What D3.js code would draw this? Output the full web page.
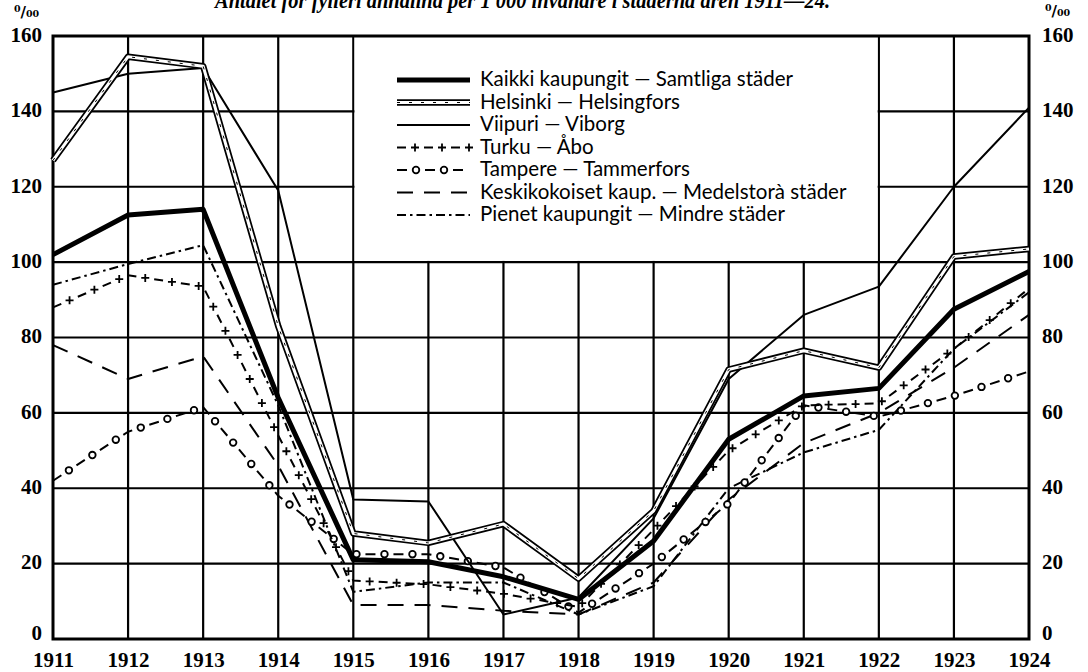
<!DOCTYPE html>
<html lang="en">
<head>
<meta charset="utf-8">
<title>Fylleri 1911-24</title>
<script src="https://cdn.jsdelivr.net/npm/d3@7"></script>
<style>
  body { margin: 0; background: #fff; }
  svg { display: block; }
</style>
</head>
<body>
<script>
// years on the x axis
var years = [1911, 1912, 1913, 1914, 1915, 1916, 1917, 1918, 1919, 1920, 1921, 1922, 1923, 1924];
var yTicks = [0, 20, 40, 60, 80, 100, 120, 140, 160];

// per mille
var kaikki   = [102, 112.5, 114, 64, 21, 20.5, 16.5, 10.5, 26, 53, 64.5, 66.5, 87.5, 97.5];
var helsinki = [127, 154.5, 152, 83, 28, 25.5, 30.5, 16, 34, 71.5, 76.5, 72, 101.5, 103.5];
var viipuri  = [145, 150, 151.5, 119, 37, 36.5, 6.5, 11, 32, 69, 86, 93.5, 120, 141];
var turku    = [88, 96.5, 93.5, 54, 15.5, 14.5, 12, 8.5, 29, 50, 62, 62.5, 77, 93];
var tampere  = [42, 55, 61.5, 38, 22.5, 22.5, 19, 7, 20, 36, 62, 59, 64.5, 71];
var keski    = [78, 69, 75, 46, 9, 9, 7.5, 6.5, 15, 37, 52, 60, 72, 86];
var pienet   = [94, 99.5, 104.5, 62, 12.5, 15, 15, 6.5, 14, 40, 49.5, 55.5, 77, 92];

var labels = [
  "Kaikki kaupungit — Samtliga städer",
  "Helsinki — Helsingfors",
  "Viipuri — Viborg",
  "Turku — Åbo",
  "Tampere — Tammerfors",
  "Keskikokoiset kaup. — Medelstorà städer",
  "Pienet kaupungit — Mindre städer"
];
var title = "Antalet för fylleri anhållna per 1 000 invånare i städerna åren 1911—24.";

var width = 1088, height = 672;
var x = d3.scaleLinear().domain([1911, 1924]).range([53, 1029]);
var y = d3.scaleLinear().domain([0, 160]).range([639, 36]);

var svg = d3.select("body").append("svg")
  .attr("width", width).attr("height", height)
  .attr("viewBox", [0, 0, width, height]);

var serif = "'Liberation Serif', 'DejaVu Serif', serif";

// title, cut by the top edge like the scan
svg.append("text")
  .attr("x", 215).attr("y", 8)
  .attr("textLength", 615).attr("lengthAdjust", "spacingAndGlyphs")
  .attr("font-family", serif).attr("font-style", "italic").attr("font-weight", "bold")
  .attr("font-size", 23)
  .text(title);

function styleTicks(g) {
  g.select(".domain").remove();
  g.selectAll("text").attr("font-family", serif).attr("font-size", 21)
    .attr("font-weight", "bold").attr("fill", "#000");
}
function yLabelShift(g) {
  g.selectAll("text").attr("dy", function (d) { return d === 0 ? "0" : "0.25em"; });
}

svg.append("g")
  .attr("transform", "translate(" + x(1911) + ",0)")
  .call(d3.axisLeft(y).tickValues(yTicks).tickSize(0).tickPadding(11).tickFormat(d3.format("d")))
  .call(styleTicks)
  .call(yLabelShift);

svg.append("g")
  .attr("transform", "translate(" + x(1924) + ",0)")
  .call(d3.axisRight(y).tickValues(yTicks).tickSize(0).tickPadding(13).tickFormat(d3.format("d")))
  .call(styleTicks)
  .call(yLabelShift);

svg.append("g")
  .attr("transform", "translate(0," + y(0) + ")")
  .call(d3.axisBottom(x).tickValues(years).tickSize(0).tickPadding(13).tickFormat(d3.format("d")))
  .call(styleTicks);

var grid = svg.append("g").attr("stroke", "#000").attr("stroke-width", 2.2);
grid.selectAll("line.h").data(yTicks.slice(1, -1)).join("line")
  .attr("x1", x(1911)).attr("x2", x(1924))
  .attr("y1", function (d) { return y(d); }).attr("y2", function (d) { return y(d); });
grid.selectAll("line.v").data(years.slice(1, -1)).join("line")
  .attr("y1", y(0)).attr("y2", y(160))
  .attr("x1", function (d) { return x(d); }).attr("x2", function (d) { return x(d); });

// legend panel wipes the grid between 1915-1922 above 100
svg.append("rect")
  .attr("x", x(1915) + 1.2).attr("y", y(160))
  .attr("width", x(1922) - x(1915) - 2.4).attr("height", y(100) - y(160) - 1.2)
  .attr("fill", "#fff");

svg.append("rect")
  .attr("x", x(1911)).attr("y", y(160))
  .attr("width", x(1924) - x(1911)).attr("height", y(0) - y(160))
  .attr("fill", "none").attr("stroke", "#000").attr("stroke-width", 3);

// per mille signs
svg.append("text").attr("x", 14).attr("y", 17)
  .attr("font-family", "'DejaVu Serif', serif").attr("font-weight", "bold").attr("font-size", 15)
  .text("⁰/₀₀");
svg.append("text").attr("x", 1045).attr("y", 16)
  .attr("font-family", "'DejaVu Serif', serif").attr("font-weight", "bold").attr("font-size", 15)
  .text("⁰/₀₀");

var line = d3.line()
  .x(function (d, i) { return x(years[i]); })
  .y(function (d) { return y(d); });

var plot = svg.append("g").attr("fill", "none").attr("stroke-linejoin", "round");

// marks put in the gaps of a dashed path
function gapMarks(target, path, dash, gap, kind) {
  var node = path.node(), len = node.getTotalLength();
  var g = target.append("g");
  for (var s = dash + gap / 2; s < len; s += dash + gap) {
    var p = node.getPointAtLength(s);
    if (kind === "plus") {
      g.append("path").attr("d", "M" + (p.x - 4) + "," + p.y + "h8M" + p.x + "," + (p.y - 4) + "v8")
        .attr("stroke", "#000").attr("stroke-width", 1.8);
    } else {
      g.append("circle").attr("cx", p.x).attr("cy", p.y).attr("r", 3.3)
        .attr("fill", "#fff").attr("stroke", "#000").attr("stroke-width", 1.8);
    }
  }
}

function drawSeries(target, data, style, lineFn) {
  var d = lineFn(data);
  if (style === "thick") {
    target.append("path").attr("d", d).attr("stroke", "#000").attr("stroke-width", 5);
  } else if (style === "double") {
    target.append("path").attr("d", d).attr("stroke", "#000").attr("stroke-width", 6.5);
    target.append("path").attr("d", d).attr("stroke", "#fff").attr("stroke-width", 3);
    target.append("path").attr("d", d).attr("stroke", "#000").attr("stroke-width", 1)
      .attr("stroke-dasharray", "3,9");
  } else if (style === "thin") {
    target.append("path").attr("d", d).attr("stroke", "#000").attr("stroke-width", 2);
  } else if (style === "plus") {
    var p = target.append("path").attr("d", d).attr("stroke", "#000").attr("stroke-width", 2)
      .attr("stroke-dasharray", "9,18");
    gapMarks(target, p, 9, 18, "plus");
  } else if (style === "circle") {
    var c = target.append("path").attr("d", d).attr("stroke", "#000").attr("stroke-width", 2)
      .attr("stroke-dasharray", "10,18");
    gapMarks(target, c, 10, 18, "circle");
  } else if (style === "dash") {
    target.append("path").attr("d", d).attr("stroke", "#000").attr("stroke-width", 2)
      .attr("stroke-dasharray", "16,11");
  } else if (style === "dashdot") {
    target.append("path").attr("d", d).attr("stroke", "#000").attr("stroke-width", 2)
      .attr("stroke-dasharray", "9,4,2.5,4");
  }
}

var series = [
  { data: keski, style: "dash" },
  { data: pienet, style: "dashdot" },
  { data: tampere, style: "circle" },
  { data: turku, style: "plus" },
  { data: viipuri, style: "thin" },
  { data: helsinki, style: "double" },
  { data: kaikki, style: "thick" }
];
series.forEach(function (s) { drawSeries(plot, s.data, s.style, line); });

// legend
var legendStyles = ["thick", "double", "thin", "plus", "circle", "dash", "dashdot"];
var lg = svg.append("g").attr("fill", "none");
legendStyles.forEach(function (st, i) {
  var ly = 80 + i * 22.5;
  drawSeries(lg, null, st, function () { return "M397," + ly + "H470"; });
  svg.append("text")
    .attr("x", 480).attr("y", ly + 6)
    .attr("font-family", "Lato, 'Open Sans', sans-serif").attr("font-size", 20.5)
    .attr("fill", "#000")
    .text(labels[i]);
});
</script>
</body>
</html>
